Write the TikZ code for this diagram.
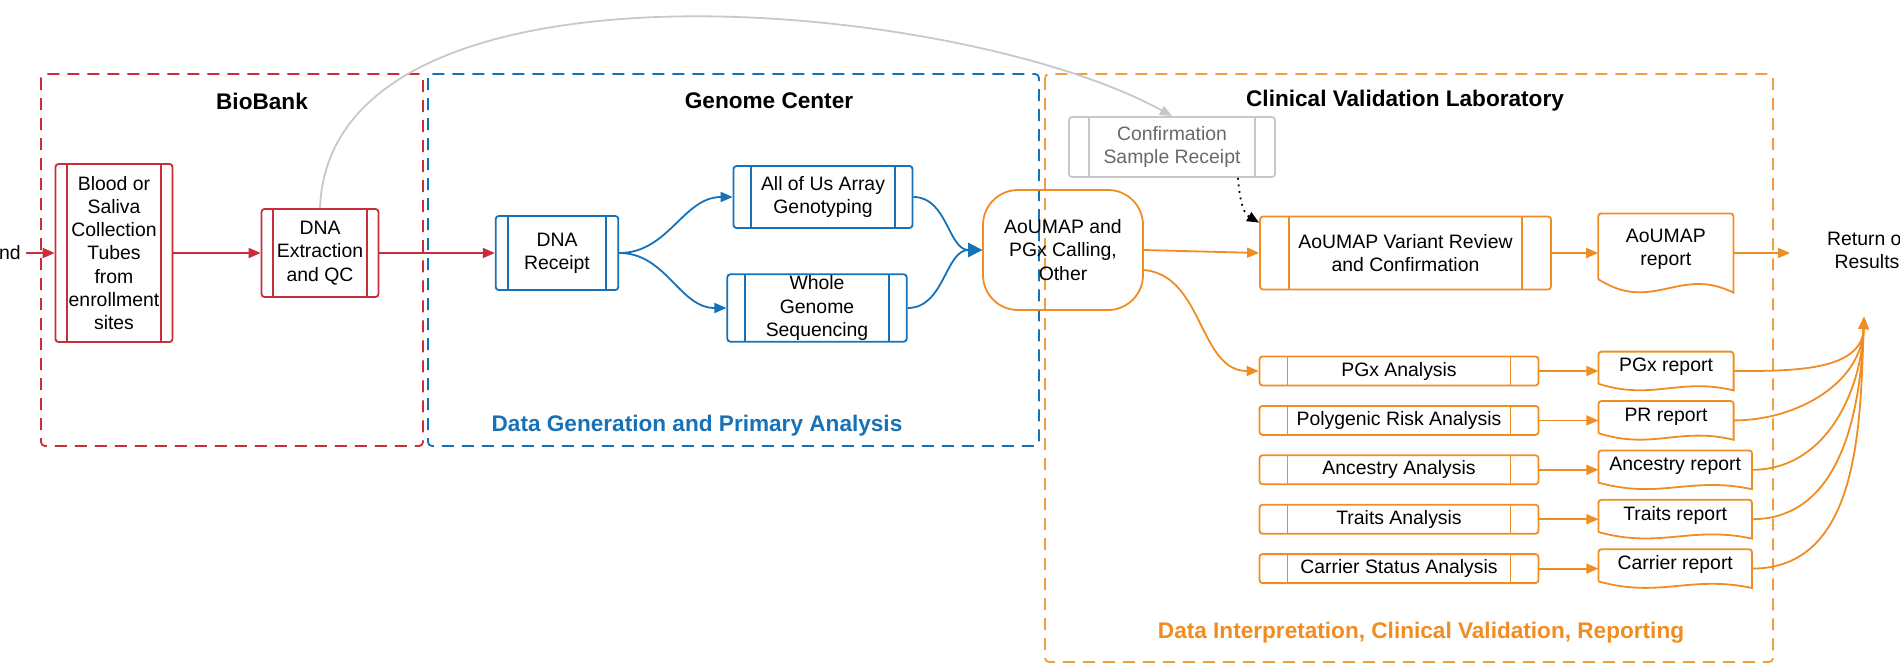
\documentclass[tikz,border=0pt]{standalone}
\usepackage{fontspec}
\setmainfont{Liberation Sans}
\definecolor{bbred}{RGB}{201,45,57}
\definecolor{gcblue}{RGB}{22,114,184}
\definecolor{cvorange}{RGB}{239,141,34}
\definecolor{lightgrey}{RGB}{200,200,200}
\definecolor{greytext}{RGB}{105,105,105}
\usetikzlibrary{positioning,calc,arrows.meta}

\begin{document}
\begin{tikzpicture}[x=0.5pt, y=-0.5pt,
    every node/.style={font=\fontsize{9.7}{11.65}\selectfont, align=center, inner sep=0pt},
    procbox/.style 2 args={draw=#1, line width=0.9pt, rounded corners=1.5pt,
      path picture={\draw[#1, line width=0.9pt]
        ([xshift=#2]path picture bounding box.north west) -- ([xshift=#2]path picture bounding box.south west)
        ([xshift=-#2]path picture bounding box.north east) -- ([xshift=-#2]path picture bounding box.south east);}},
    zone/.style={draw=#1, line width=0.9pt, dash pattern=on 6pt off 4pt, rounded corners=2pt},
    zonetitle/.style={font=\fontsize{11.3}{13}\selectfont\bfseries},
    conn/.style={draw=#1, line width=0.9pt, -{Triangle[length=6pt,width=5pt]}},
    reportbox/.style={minimum height=19pt, text depth=6pt},
    node distance=9.3pt
    ]
    \useasboundingbox (0,0) rectangle (1900,664);

    % the three zones
    \draw[zone=bbred] (41,74) rectangle (423,446);
    \draw[zone=gcblue] (428,74) rectangle (1039,446);
    \draw[zone=cvorange!85] (1045,74) rectangle (1773,662);

    \node (bbtitle) [zonetitle] at (262,101) {BioBank};
    \node (gctitle) [zonetitle] at (769,101) {Genome Center};
    \node (cvtitle) [zonetitle] at (1405,101) {Clinical Validation Laboratory};
    \node (gclabel) [zonetitle, text=gcblue] at (697,426) {Data Generation and Primary Analysis};
    \node (cvlabel) [zonetitle, text=cvorange] at (1421,633) {Data Interpretation, Clinical Validation, Reporting};

    % BioBank
    \node (enroll) [anchor=east, inner sep=2.5pt] at (26,253) {nd};
    \node (blood) [procbox={bbred}{5.75pt}, minimum width=58.5pt, minimum height=89pt] at (114,253) {Blood or\\Saliva\\Collection\\Tubes\\from\\enrollment\\sites};
    \node (dnaext) [procbox={bbred}{5.6pt}, minimum width=58.5pt, minimum height=44pt] at (320,253) {DNA\\Extraction\\and QC};

    % Genome Center
    \node (dnarec) [procbox={gcblue}{6.3pt}, minimum width=61.3pt, minimum height=37pt] at (557,253) {DNA\\Receipt};
    \node (array) [procbox={gcblue}{8.9pt}, minimum width=89.5pt, minimum height=31pt] at (823,197) {All of Us Array\\Genotyping};
    \node (wgs) [procbox={gcblue}{8.9pt}, minimum width=89.7pt, minimum height=33.7pt] at (817,308) {Whole\\Genome\\Sequencing};

    % Clinical Validation Laboratory
    \node (calling) [draw=cvorange, line width=0.9pt, rounded corners=17.5pt, minimum width=80pt, minimum height=60pt] at (1063,250) {AoUMAP and\\PGx Calling,\\Other};
    \node (confirm) [procbox={lightgrey}{10.1pt}, minimum width=103pt, minimum height=30pt, text=greytext] at (1172,147) {Confirmation\\Sample Receipt};
    \node (review) [procbox={cvorange}{14.4pt}, minimum width=145.5pt, minimum height=36.5pt] at (1405.5,253) {AoUMAP Variant Review\\and Confirmation};
    \node (aoumaprep) [reportbox, minimum width=67.2pt, minimum height=39.2pt, right=23.15pt of review] {AoUMAP\\report};

    \node (pgxa) [procbox={cvorange}{14pt}, minimum width=139.5pt, minimum height=14.5pt] at (1399,371) {PGx Analysis};
    \node (pra) [procbox={cvorange}{14pt}, minimum width=139.5pt, minimum height=14.5pt, below=of pgxa] {Polygenic Risk Analysis};
    \node (anca) [procbox={cvorange}{14pt}, minimum width=139.5pt, minimum height=14.5pt, below=of pra] {Ancestry Analysis};
    \node (traita) [procbox={cvorange}{14pt}, minimum width=139.5pt, minimum height=14.5pt, below=of anca] {Traits Analysis};
    \node (cara) [procbox={cvorange}{14pt}, minimum width=139.5pt, minimum height=14.5pt, below=of traita] {Carrier Status Analysis};

    \node (pgxrep) [reportbox, minimum width=67.2pt, right=29.5pt of pgxa] {PGx report};
    \node (prrep) [reportbox, minimum width=67.2pt, right=29.5pt of pra] {PR report};
    \node (ancrep) [reportbox, minimum width=76.4pt, right=29.5pt of anca] {Ancestry report};
    \node (traitrep) [reportbox, minimum width=76.4pt, right=29.5pt of traita] {Traits report};
    \node (carrep) [reportbox, minimum width=76.4pt, right=29.5pt of cara] {Carrier report};

    \node (results) at (1867,250) {Return of\\Results};
    \coordinate (retin) at (1790,253);
    \coordinate (retup) at (1864,317);

    % report outlines with wavy bottom
    \foreach \r in {aoumaprep,pgxrep,prrep,ancrep,traitrep,carrep}
      \draw[cvorange, line width=0.9pt] let \p1=($(\r.north east)-(\r.south west)$) in
        ($(\r.south west)+(0pt,0.17*\y1)$) [rounded corners=1.5pt] -- (\r.north west) -- (\r.north east) [sharp corners] -- (\r.south east)
        .. controls +(-0.4*\x1,0.34*\y1) and +(0.4*\x1,-0.44*\y1) .. ($(\r.south west)+(0pt,0.17*\y1)$);

    % the edges
    \draw[conn=bbred] (enroll) -- (blood);
    \draw[conn=bbred] (blood) -- (dnaext);
    \draw[conn=bbred] (dnaext) -- (dnarec);
    \draw[conn=gcblue] (dnarec.east) to[out=0,in=180] (array.west);
    \draw[conn=gcblue] (dnarec.east) to[out=0,in=180] (wgs.west);
    \draw[conn=gcblue, -{Triangle[length=7pt,width=7pt]}] (array.east) to[out=0,in=180] (calling.west);
    \draw[conn=gcblue, -{Triangle[length=7pt,width=7pt]}] (wgs.east) to[out=0,in=180] (calling.west);
    \draw[conn=cvorange] (calling.east) -- (review.west);
    \draw[conn=cvorange] ([yshift=-10pt]calling.east) to[out=-5,in=180] (pgxa.west);
    \draw[conn=cvorange] (review) -- (aoumaprep);
    \draw[conn=cvorange] (aoumaprep) -- (retin);
    \foreach \a/\r in {pgxa/pgxrep,pra/prrep,anca/ancrep,traita/traitrep,cara/carrep}
      \draw[conn=cvorange] (\a) -- (\r);
    \foreach \r in {pgxrep,prrep,ancrep,traitrep,carrep}
      \draw[conn=cvorange] (\r.east) to[out=0,in=-92] (retup);

    % confirmation sample path
    \draw[conn=lightgrey] (dnaext.north) .. controls +(10,-269) and +(-212,-117) .. (confirm.north);
    \draw[conn=black, dash pattern=on 0.9pt off 2.4pt] ([xshift=-19pt]confirm.south east) to[out=-85,in=150] ([yshift=-3.5pt]review.north west);
\end{tikzpicture}
\end{document}
